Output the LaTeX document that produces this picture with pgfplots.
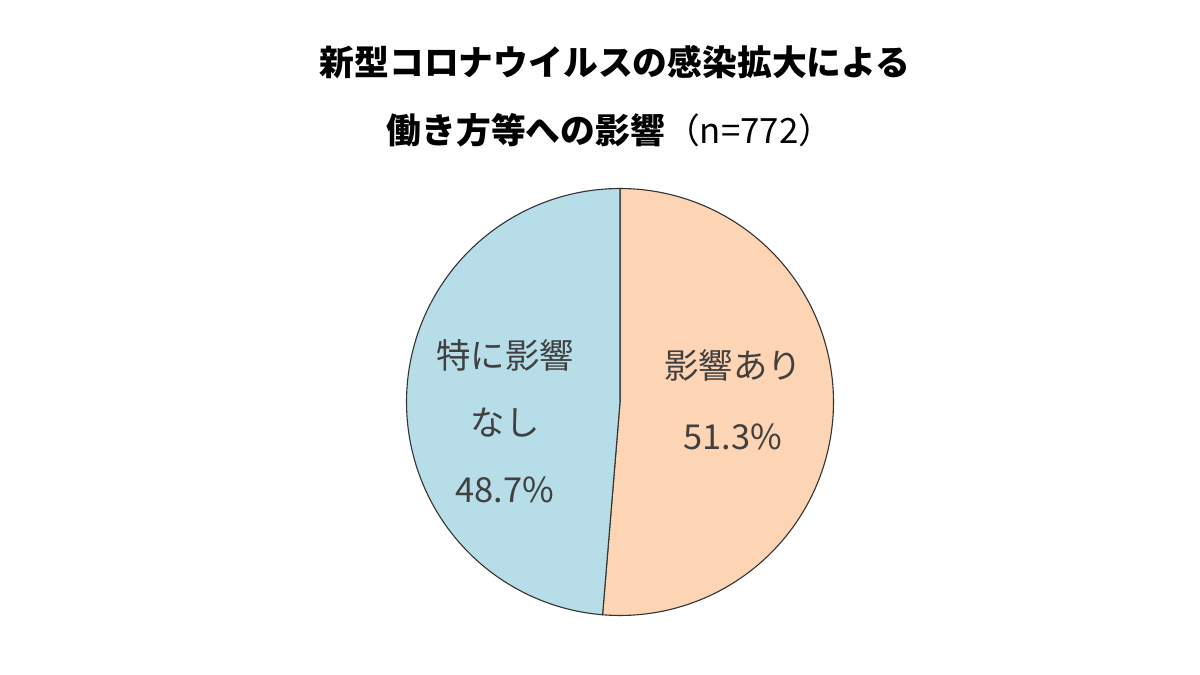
\documentclass[border=0pt]{standalone}
\usepackage{pgfplots}
\pgfplotsset{compat=1.18}
\usepackage{fontspec}
\newfontfamily\cjk{Noto Sans CJK JP}
\definecolor{peach}{HTML}{FDD5B4}
\definecolor{lblue}{HTML}{B7DDE8}
\definecolor{txt}{HTML}{404040}
\begin{document}
\begin{tikzpicture}
\def\cx{620}\def\cy{273}\def\r{213.5}
\def\va{51.3}\def\vb{48.7}
\begin{axis}[
  width=600pt, height=337.5pt, scale only axis,
  xmin=0, xmax=1200, ymin=0, ymax=675,
  hide axis, clip=false]
\path[draw=none, fill=none] (axis cs:0,0) rectangle (axis cs:1200,675);
\pgfmathsetmacro{\aend}{90-\va*3.6}
\addplot[fill=peach, draw=black!80, line width=0.55pt, domain=90:\aend, samples=120, variable=\t]
  ({\cx+\r*cos(\t)}, {\cy+\r*sin(\t)}) -- (axis cs:\cx,\cy) -- cycle;
\addplot[fill=lblue, draw=black!80, line width=0.55pt, domain=\aend:\aend-\vb*3.6, samples=120, variable=\t]
  ({\cx+\r*cos(\t)}, {\cy+\r*sin(\t)}) -- (axis cs:\cx,\cy) -- cycle;
\node[font=\cjk\bfseries\fontsize{17.4}{20}\selectfont, text=black] at (axis cs:615,613) {新型コロナウイルスの感染拡大による};
\node[font=\cjk\fontsize{17.4}{20}\selectfont, text=black] at (axis cs:610,545) {\bfseries 働き方等への影響\mdseries（n=772）};
\node[font=\cjk\fontsize{17.2}{20}\selectfont, text=txt] at (axis cs:733,310) {影響あり};
\node[font=\cjk\fontsize{17.2}{20}\selectfont, text=txt] at (axis cs:733,238) {51.3\%};
\node[font=\cjk\fontsize{17.2}{20}\selectfont, text=txt] at (axis cs:505,320) {特に影響};
\node[font=\cjk\fontsize{17.2}{20}\selectfont, text=txt] at (axis cs:505,252) {なし};
\node[font=\cjk\fontsize{17.2}{20}\selectfont, text=txt] at (axis cs:505,185) {48.7\%};
\end{axis}
\end{tikzpicture}
\end{document}
